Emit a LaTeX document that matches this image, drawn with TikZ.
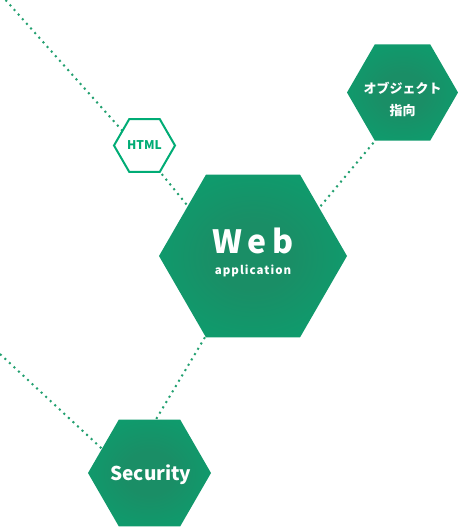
\documentclass[tikz,border=0pt]{standalone}
\usepackage{fontspec}
\setmainfont{Noto Sans CJK JP}
\newfontfamily\jp{Noto Sans CJK JP}
\newfontfamily\webfont[LetterSpace=16]{Noto Sans CJK JP}
\newfontfamily\appfont[LetterSpace=9]{Noto Sans CJK JP}
\usetikzlibrary{shapes.geometric}
\definecolor{hexin}{RGB}{26,142,102}
\definecolor{hexout}{RGB}{0,172,117}
\definecolor{dotc}{RGB}{34,160,112}
\pgfdeclareradialshading{hexshade}{\pgfpoint{0bp}{0bp}}{color(0bp)=(hexin); color(10bp)=(hexin); color(50bp)=(hexout)}
\tikzset{
  hexa/.style={regular polygon, regular polygon sides=6, inner sep=0pt, shading=hexshade, draw=none, text=white, font=\bfseries, align=center},
  hexo/.style={regular polygon, regular polygon sides=6, inner sep=0pt, fill=white, draw=hexout, line width=2pt, text=hexout, font=\bfseries},
  dotline/.style={draw=dotc, line width=2pt, dash pattern=on 2pt off 4.2pt}
}
\begin{document}
\begin{tikzpicture}[x=1pt,y=-1pt]
\useasboundingbox (0,0) rectangle (458,527);
% connector end points
\coordinate (a1) at (5.6,0);
\coordinate (a2) at (135.5,145.5);
\coordinate (b1) at (142.2,150);
\coordinate (b2) at (207.3,230);
\coordinate (c1) at (300.7,230);
\coordinate (c2) at (400.7,110);
\coordinate (d1) at (227.2,300);
\coordinate (d2) at (137.7,450);
\coordinate (e1) at (0,354);
\coordinate (e2) at (124.8,470);
\draw[dotline] (a1) -- (a2);
\draw[dotline] (b1) -- (b2);
\draw[dotline] (c1) -- (c2);
\draw[dotline] (d1) -- (d2);
\draw[dotline] (e1) -- (e2);
% hexagons
\node[hexo, minimum size=61pt] (html) at (144.5,145.5) {\fontsize{12}{12}\selectfont\bfseries HTML};
\node[hexa, minimum size=188pt] (web) at (253,256) {};
\node[text=white] (webt) at (253,241) {\fontsize{32}{32}\webfont\bfseries Web};
\node[text=white] (appt) at (253,271) {\fontsize{11.5}{11.5}\appfont\bfseries application};
\node[hexa, minimum size=111pt] (obj) at (402.5,92.5) {};
\node[text=white, align=center, font=\jp\bfseries\fontsize{13}{22}\selectfont] (objt) at (402.5,99) {オブジェクト\\指向};
\node[hexa, minimum size=123pt] (sec) at (149.5,473) {};
\node[text=white] (sect) at (151,475) {\fontsize{19}{19}\selectfont\bfseries Security};
\end{tikzpicture}
\end{document}
